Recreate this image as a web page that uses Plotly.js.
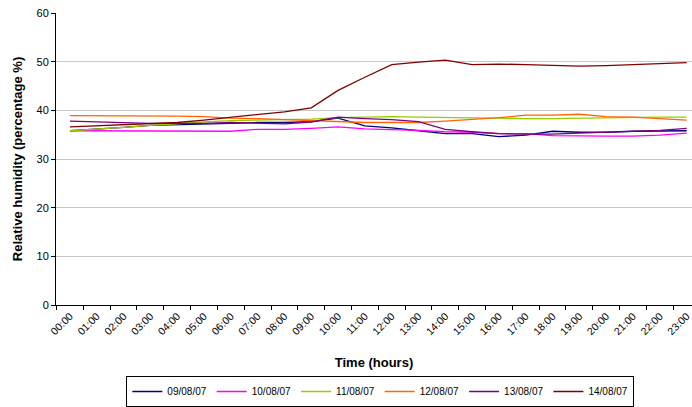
<!DOCTYPE html>
<html><head><meta charset="utf-8">
<script src="https://cdn.plot.ly/plotly-3.0.1.min.js"></script>
<style>html,body{margin:0;padding:0;background:#fff;overflow:hidden}</style>
</head><body><div id="chart" style="width:692px;height:407px"></div>
<script>
const hours = ["00:00","01:00","02:00","03:00","04:00","05:00","06:00","07:00","08:00","09:00","10:00","11:00","12:00","13:00","14:00","15:00","16:00","17:00","18:00","19:00","20:00","21:00","22:00","23:00"];
const seriesNames = ["09/08/07","10/08/07","11/08/07","12/08/07","13/08/07","14/08/07"];
const d0908 = [35.8,36.1,36.5,36.9,37.0,37.2,37.3,37.5,37.5,37.7,38.4,36.8,36.4,35.8,35.2,35.2,34.6,34.9,35.7,35.5,35.5,35.7,35.8,35.8];
const d1008 = [35.8,35.8,35.7,35.7,35.7,35.7,35.7,36.1,36.1,36.3,36.6,36.2,36.1,35.9,35.6,35.5,35.2,35.2,34.8,34.7,34.7,34.7,34.9,35.3];
const d1108 = [35.8,36.1,36.5,36.9,37.3,37.6,37.9,38.0,38.1,38.2,38.5,38.6,38.7,38.6,38.5,38.5,38.4,38.3,38.3,38.4,38.5,38.5,38.6,38.6];
const d1208 = [38.9,38.9,38.9,38.9,38.8,38.7,38.4,38.3,38.1,38.0,37.7,37.5,37.5,37.5,37.8,38.1,38.5,39.0,39.0,39.2,38.7,38.6,38.3,38.0];
const d1308 = [37.8,37.6,37.4,37.3,37.3,37.3,37.5,37.3,37.2,37.6,38.6,38.3,38.1,37.7,36.1,35.6,35.2,35.1,35.1,35.3,35.5,35.7,35.9,36.3];
const d1408 = [36.6,36.8,37.0,37.2,37.5,38.0,38.6,39.2,39.7,40.5,44.1,46.8,49.4,49.9,50.3,49.4,49.5,49.4,49.2,49.1,49.2,49.4,49.7,49.8];
const colors = ["#000080","#FF00FF","#99CC00","#FF6600","#800080","#800000"];
const allData = [d0908,d1008,d1108,d1208,d1308,d1408];

const traces = allData.map((vals,k)=>({
  x: hours, y: vals, name: seriesNames[k], type: "scatter", mode: "lines",
  line: {color: colors[k], width: 1.3}
}));

const layout = {
  width: 692, height: 407,
  margin: {l: 56, r: 0, t: 13, b: 102},
  paper_bgcolor: "#fff", plot_bgcolor: "#fff",
  font: {family: "Liberation Sans, Arial, sans-serif", size: 10, color: "#000"},
  showlegend: true,
  legend: {orientation: "h", x: 0.51, xanchor: "center", y: -0.245, yanchor: "top",
    bordercolor: "#000", borderwidth: 1, font: {size: 10}, tracegroupgap: 0},
  xaxis: {
    type: "category", range: [-0.52, 23.2], tickangle: -45,
    tickson: "boundaries", ticks: "outside", ticklen: 4, tickcolor: "#000",
    showline: true, linecolor: "#000", linewidth: 1, showgrid: false, zeroline: false,
    tickfont: {size: 10.5},
    title: {text: "<b>Time (hours)</b>", font: {size: 13}, standoff: 21}
  },
  yaxis: {
    range: [0, 60], dtick: 10, ticks: "outside", ticklen: 4, tickcolor: "#000",
    showline: true, linecolor: "#000", linewidth: 1,
    showgrid: true, gridcolor: "#c8c8c8", gridwidth: 1, zeroline: false,
    tickfont: {size: 11},
    title: {text: "<b>Relative humidity (percentage %)</b>", font: {size: 13}, standoff: 10}
  }
};
Plotly.newPlot("chart", traces, layout, {staticPlot: true, displayModeBar: false});
</script></body></html>
